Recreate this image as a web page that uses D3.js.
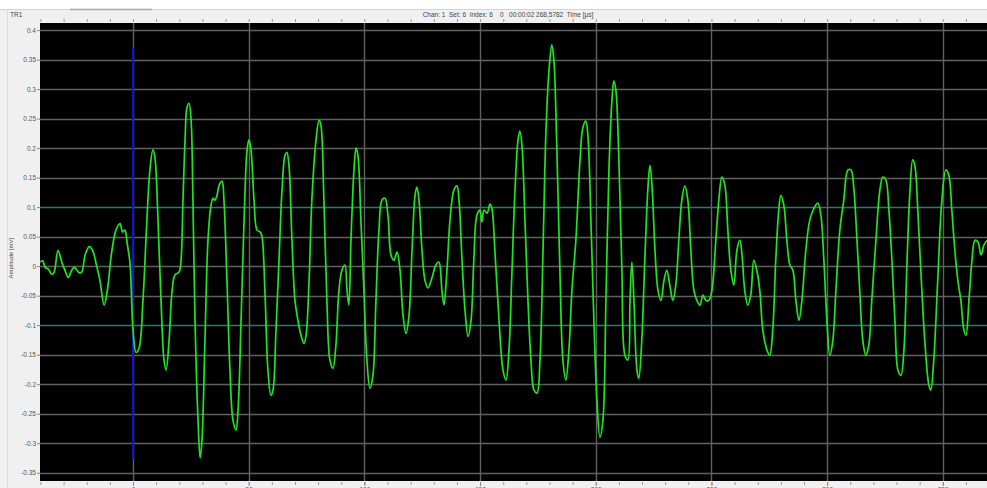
<!DOCTYPE html>
<html>
<head>
<meta charset="utf-8">
<script src="https://cdn.jsdelivr.net/npm/d3@7/dist/d3.min.js"></script>
<style>
  html, body { margin: 0; padding: 0; background: #ffffff; }
  svg { display: block; }
  text { font-family: "Liberation Sans", Arial, sans-serif; }
</style>
</head>
<body>
<svg id="chart" width="987" height="488"></svg>
<script>
// Waveform record: time in µs, amplitude in mV
const timeUs = [
  -40.2, -39.0, -38.0, -36.6, -35.1, -34.1, -32.4, -30.8, -29.4, -28.0,
  -26.5, -25.4, -24.3, -23.3, -22.2, -20.7, -18.9, -17.4, -15.7, -14.3,
  -12.5, -11.1, -9.2, -7.3, -5.6, -4.5, -3.5, -2.5, -1.3, 0.0,
  1.3, 2.6, 4.3, 6.0, 7.3, 8.6, 9.5, 10.8, 12.1, 13.4,
  14.3, 15.6, 16.9, 18.1, 19.9, 20.7, 21.6, 22.5, 23.3, 24.2,
  25.1, 25.9, 26.8, 28.1, 29.0, 29.8, 31.1, 32.4, 33.7, 34.6,
  35.4, 36.3, 37.2, 38.5, 39.3, 40.6, 41.9, 43.2, 44.5, 45.4,
  46.7, 48.0, 49.3, 50.1, 51.0, 52.3, 53.6, 54.9, 55.7, 57.0,
  58.3, 59.6, 60.5, 61.8, 63.1, 64.4, 65.7, 66.5, 67.4, 68.7,
  70.0, 71.3, 72.6, 73.9, 74.8, 76.1, 77.3, 79.1, 80.4, 81.2,
  82.5, 83.8, 85.1, 86.4, 87.7, 89.0, 90.3, 91.6, 92.5, 93.3,
  94.2, 95.5, 96.4, 97.2, 98.5, 99.8, 101.1, 102.4, 103.7, 105.0,
  106.3, 107.6, 108.9, 110.2, 111.5, 112.8, 114.1, 115.4, 116.7, 118.0,
  119.3, 120.6, 121.9, 122.7, 123.6, 124.9, 126.2, 127.5, 129.2, 130.9,
  132.2, 133.5, 134.4, 135.7, 137.0, 138.7, 140.0, 140.9, 142.2, 143.5,
  144.8, 146.1, 147.3, 148.6, 149.9, 150.8, 151.7, 153.0, 154.3, 155.1,
  156.4, 158.2, 159.9, 161.2, 162.5, 163.8, 165.1, 166.4, 167.2, 168.1,
  169.4, 170.7, 172.0, 173.3, 174.6, 175.9, 177.2, 178.5, 179.8, 181.0,
  181.9, 183.2, 184.5, 185.8, 187.1, 188.4, 189.7, 191.4, 193.2, 194.4,
  195.7, 196.6, 197.9, 199.2, 200.5, 201.8, 203.1, 204.4, 205.7, 207.0,
  207.8, 208.7, 210.0, 211.3, 212.6, 213.9, 214.8, 215.6, 216.5, 217.8,
  218.6, 219.9, 221.2, 222.5, 223.4, 224.3, 225.6, 226.9, 228.2, 229.5,
  230.7, 232.0, 233.3, 234.6, 235.9, 237.2, 238.5, 239.8, 241.1, 242.4,
  243.7, 245.0, 246.3, 247.6, 248.9, 250.2, 251.9, 253.2, 254.5, 255.8,
  257.1, 258.4, 259.7, 261.0, 262.3, 263.2, 264.4, 265.7, 267.0, 268.3,
  269.6, 270.9, 272.2, 274.0, 275.2, 276.5, 277.8, 279.1, 280.0, 281.3,
  282.6, 283.9, 285.2, 286.5, 287.8, 289.1, 290.8, 292.5, 294.3, 296.0,
  297.3, 298.6, 299.9, 301.2, 302.5, 303.8, 305.5, 307.2, 309.0, 310.3,
  311.6, 312.9, 314.1, 315.4, 316.7, 318.0, 319.3, 321.1, 322.8, 324.1,
  325.4, 326.7, 328.0, 329.3, 330.6, 331.9, 333.2, 334.4, 335.7, 337.0,
  337.9, 339.2, 340.5, 342.2, 344.0, 344.8, 346.1, 347.8, 349.6, 351.3,
  352.6, 353.9, 355.2, 356.5, 357.8, 359.1, 360.0, 361.3, 362.6, 363.9,
  365.2, 366.5, 367.8, 369.1
];
const amplitudeMv = [
  0.007, 0.009, -0.002, -0.005, -0.014, -0.010, 0.027, 0.007, -0.007, -0.019,
  -0.007, -0.002, -0.006, -0.011, -0.010, 0.019, 0.033, 0.026, 0.000, -0.024,
  -0.066, -0.041, 0.024, 0.062, 0.072, 0.058, 0.061, 0.038, 0.005, -0.108,
  -0.146, -0.139, -0.058, 0.078, 0.163, 0.197, 0.183, 0.078, -0.058, -0.159,
  -0.176, -0.125, -0.041, -0.015, -0.010, 0.007, 0.112, 0.214, 0.268, 0.276,
  0.247, 0.112, -0.092, -0.261, -0.325, -0.295, -0.125, 0.044, 0.103, 0.115,
  0.112, 0.120, 0.137, 0.144, 0.112, -0.024, -0.176, -0.261, -0.278, -0.244,
  -0.092, 0.078, 0.197, 0.214, 0.197, 0.112, 0.061, 0.058, 0.051, -0.041,
  -0.176, -0.219, -0.210, -0.108, 0.010, 0.129, 0.188, 0.193, 0.171, 0.044,
  -0.058, -0.092, -0.117, -0.131, -0.117, -0.024, 0.112, 0.214, 0.247, 0.239,
  0.112, -0.058, -0.159, -0.173, -0.134, -0.041, -0.007, 0.002, -0.041, -0.066,
  0.044, 0.163, 0.200, 0.188, 0.078, -0.041, -0.159, -0.207, -0.185, -0.058,
  0.061, 0.112, 0.115, 0.086, 0.019, 0.010, 0.024, -0.007, -0.083, -0.114,
  -0.083, 0.027, 0.120, 0.134, 0.112, 0.027, -0.024, -0.037, -0.020, 0.002,
  0.007, -0.041, -0.066, -0.007, 0.078, 0.129, 0.136, 0.112, 0.010, -0.075,
  -0.119, -0.092, 0.010, 0.086, 0.095, 0.075, 0.095, 0.090, 0.105, 0.098,
  0.027, -0.092, -0.176, -0.193, -0.142, -0.007, 0.129, 0.214, 0.229, 0.205,
  0.078, -0.058, -0.159, -0.210, -0.215, -0.159, 0.027, 0.231, 0.332, 0.375,
  0.349, 0.197, -0.007, -0.159, -0.193, -0.142, -0.041, 0.044, 0.180, 0.234,
  0.246, 0.222, 0.078, -0.092, -0.227, -0.290, -0.261, -0.058, 0.163, 0.281,
  0.314, 0.298, 0.180, -0.007, -0.151, -0.159, -0.058, 0.007, -0.058, -0.176,
  -0.190, -0.125, 0.010, 0.129, 0.171, 0.137, 0.027, -0.041, -0.058, -0.024,
  -0.007, -0.032, -0.058, -0.032, 0.044, 0.112, 0.136, 0.112, 0.027, -0.041,
  -0.058, -0.066, -0.049, -0.058, -0.058, -0.041, 0.044, 0.112, 0.151, 0.137,
  0.061, -0.007, -0.032, 0.027, 0.044, 0.019, -0.041, -0.066, -0.049, 0.010,
  -0.007, -0.041, -0.108, -0.142, -0.151, -0.108, 0.010, 0.095, 0.120, 0.103,
  0.044, 0.002, -0.007, -0.058, -0.092, -0.058, 0.027, 0.078, 0.098, 0.107,
  0.086, 0.010, -0.092, -0.151, -0.125, -0.041, 0.061, 0.112, 0.163, 0.163,
  0.129, 0.044, -0.041, -0.125, -0.151, -0.134, -0.058, 0.044, 0.129, 0.151,
  0.146, 0.095, 0.010, -0.092, -0.176, -0.185, -0.142, -0.007, 0.120, 0.180,
  0.171, 0.095, -0.007, -0.125, -0.202, -0.210, -0.159, -0.024, 0.112, 0.163,
  0.154, 0.095, 0.027, -0.024, -0.058, -0.108, -0.117, -0.058, 0.010, 0.044,
  0.041, 0.019, 0.036, 0.044
];

// Axis setup
const timeDomain = [-40.2, 369.1];
const ampDomain = [-0.364, 0.412];
const yTickValues = [0.4, 0.35, 0.3, 0.25, 0.2, 0.15, 0.1, 0.05, 0, -0.05, -0.1, -0.15, -0.2, -0.25, -0.3, -0.35];
const yTickLabels = ["0.4", "0.35", "0.3", "0.25", "0.2", "0.15", "0.1", "0.05", "0", "-0.05", "-0.1", "-0.15", "-0.2", "-0.25", "-0.3", "-0.35"];
const xMajorTicks = [0, 50, 100, 150, 200, 250, 300, 350];
const xTickLabels = ["0", "50", "100", "150", "200", "250", "300", "350"];
const thresholdLevels = [0.1, -0.1];
const triggerMarker = { time: 0, from: -0.327, to: 0.371 };

const headerText = "Chan: 1  Set: 6  Index: 6    0   00:00:02 268,5782  Time [µs]";
const panelTitle = "TR1";
const yAxisTitle = "Amplitude [mV]";

const svg = d3.select("#chart");
const W = 987, H = 488;
const plot = { left: 40, top: 23, right: 987, bottom: 481 };

const x = d3.scaleLinear().domain(timeDomain).range([plot.left, plot.right]);
const y = d3.scaleLinear().domain(ampDomain).range([plot.bottom, plot.top]);

// Window chrome: white strip, grey panel
svg.append("rect").attr("x", 0).attr("y", 0).attr("width", W).attr("height", H).attr("fill", "#ffffff");
svg.append("rect").attr("x", 0).attr("y", 10).attr("width", W).attr("height", H - 10).attr("fill", "#f0f0f0");
svg.append("line").attr("x1", 0).attr("x2", W).attr("y1", 9.5).attr("y2", 9.5).attr("stroke", "#d4d4d4");
svg.append("line").attr("x1", 70).attr("x2", 152).attr("y1", 9.5).attr("y2", 9.5).attr("stroke", "#a8a8a8").attr("stroke-width", 1.5);
svg.append("line").attr("x1", 7.5).attr("x2", 7.5).attr("y1", 10).attr("y2", H).attr("stroke", "#dcdcdc");

// Plot background
svg.append("rect")
  .attr("x", plot.left).attr("y", plot.top)
  .attr("width", plot.right - plot.left).attr("height", plot.bottom - plot.top)
  .attr("fill", "#000000");

// Horizontal grid
const gridG = svg.append("g");
gridG.selectAll("line.h").data(yTickValues).join("line")
  .attr("class", "h")
  .attr("x1", plot.left).attr("x2", plot.right)
  .attr("y1", d => Math.round(y(d)) + 0.5).attr("y2", d => Math.round(y(d)) + 0.5)
  .attr("stroke", d => thresholdLevels.includes(d) ? "#1f7d80" : "#606060")
  .attr("stroke-width", 1.4);

// Vertical grid
gridG.selectAll("line.v").data(xMajorTicks).join("line")
  .attr("class", "v")
  .attr("x1", d => Math.round(x(d)) + 0.5).attr("x2", d => Math.round(x(d)) + 0.5)
  .attr("y1", plot.top).attr("y2", plot.bottom)
  .attr("stroke", "#606060")
  .attr("stroke-width", 1.4);

// Trigger marker
svg.append("line")
  .attr("x1", x(triggerMarker.time)).attr("x2", x(triggerMarker.time))
  .attr("y1", y(triggerMarker.to)).attr("y2", y(triggerMarker.from))
  .attr("stroke", "#1414d8").attr("stroke-width", 2);

// Waveform
const pts = timeUs.map((t, i) => [t, amplitudeMv[i]]);
const line = d3.line().x(d => x(d[0])).y(d => y(d[1])).curve(d3.curveCatmullRom.alpha(0.5));
svg.append("defs").append("clipPath").attr("id", "plotClip")
  .append("rect").attr("x", plot.left).attr("y", plot.top)
  .attr("width", plot.right - plot.left).attr("height", plot.bottom - plot.top);
svg.append("path")
  .datum(pts)
  .attr("clip-path", "url(#plotClip)")
  .attr("d", line)
  .attr("fill", "none")
  .attr("stroke", "#1ee61e")
  .attr("stroke-width", 1.7)
  .attr("stroke-linejoin", "round");

// Left axis
const yAxis = d3.axisLeft(y)
  .tickValues(yTickValues)
  .tickSize(3).tickPadding(1)
  .tickFormat((d, i) => yTickLabels[i]);
const yAxisG = svg.append("g").attr("transform", `translate(${plot.left},0)`).call(yAxis);
yAxisG.select(".domain").remove();
yAxisG.selectAll("line").attr("stroke", "#888");
yAxisG.selectAll("text").attr("fill", "#555").style("font-size", "6.5px");

// Minor time ticks (every 10 µs)
const minorTicks = d3.range(-40, 370, 10);
const xTop = d3.axisTop(x).tickValues(minorTicks).tickSize(3).tickFormat("");
const xTopG = svg.append("g").attr("transform", `translate(0,${plot.top - 1})`).call(xTop);
xTopG.select(".domain").remove();
xTopG.selectAll("line").attr("stroke", "#999");

const xBot = d3.axisBottom(x).tickValues(minorTicks).tickSize(3).tickFormat("");
const xBotG = svg.append("g").attr("transform", `translate(0,${plot.bottom + 1})`).call(xBot);
xBotG.select(".domain").remove();
xBotG.selectAll("line").attr("stroke", "#999");

// Major time labels (the window's lower edge trims them)
const xLab = d3.axisBottom(x).tickValues(xMajorTicks).tickSize(4).tickPadding(1)
  .tickFormat((d, i) => xTickLabels[i]);
const xLabG = svg.append("g").attr("transform", `translate(0,${plot.bottom + 1})`).call(xLab);
xLabG.select(".domain").remove();
xLabG.selectAll("line").attr("stroke", "#888");
xLabG.selectAll("text").attr("fill", "#555").style("font-size", "6.5px");

// Header and titles
svg.append("text").attr("x", 508).attr("y", 17).attr("text-anchor", "middle")
  .attr("fill", "#444").style("font-size", "6.5px").style("white-space", "pre")
  .attr("xml:space", "preserve").text(headerText);
svg.append("text").attr("x", 10).attr("y", 17)
  .attr("fill", "#444").style("font-size", "6.5px").text(panelTitle);
svg.append("text")
  .attr("transform", `translate(13,${y(0) - 8}) rotate(-90)`)
  .attr("text-anchor", "middle")
  .attr("fill", "#444").style("font-size", "6px").text(yAxisTitle);
</script>
</body>
</html>
